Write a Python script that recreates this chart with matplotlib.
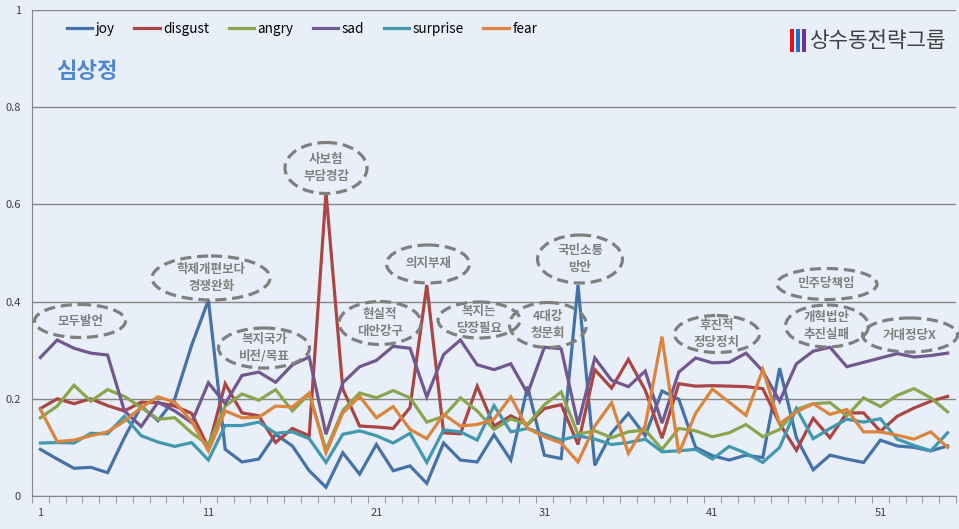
import numpy as np
from matplotlib import pyplot as plt
from matplotlib.patches import Ellipse, Rectangle

plt.rcParams['font.family'] = ['Noto Sans CJK KR', 'DejaVu Sans']

# 감정 점수 (1~55 발언 구간)
joy = [0.096, 0.076, 0.057, 0.059, 0.048, 0.12, 0.185, 0.155, 0.20, 0.31,
       0.403, 0.096, 0.07, 0.076, 0.127, 0.103, 0.052, 0.018, 0.089, 0.045,
       0.106, 0.052, 0.062, 0.026, 0.109, 0.074, 0.07, 0.126, 0.074, 0.225,
       0.084, 0.077, 0.434, 0.063, 0.13, 0.17, 0.124, 0.216, 0.199, 0.10,
       0.083, 0.074, 0.084, 0.079, 0.263, 0.12, 0.054, 0.084, 0.076, 0.069,
       0.115, 0.103, 0.10, 0.093, 0.103]
disgust = [0.18, 0.20, 0.19, 0.20, 0.186, 0.175, 0.193, 0.192, 0.185, 0.17,
           0.10, 0.231, 0.171, 0.165, 0.11, 0.139, 0.124, 0.625, 0.22, 0.144,
           0.142, 0.139, 0.182, 0.434, 0.13, 0.128, 0.226, 0.144, 0.165, 0.147,
           0.18, 0.188, 0.106, 0.26, 0.222, 0.281, 0.218, 0.119, 0.231, 0.226,
           0.227, 0.226, 0.225, 0.221, 0.149, 0.094, 0.16, 0.12, 0.171, 0.171,
           0.133, 0.164, 0.181, 0.195, 0.205]
angry = [0.161, 0.185, 0.228, 0.195, 0.219, 0.205, 0.182, 0.158, 0.161, 0.13,
         0.105, 0.185, 0.21, 0.197, 0.219, 0.175, 0.21, 0.095, 0.176, 0.212,
         0.202, 0.217, 0.202, 0.152, 0.164, 0.202, 0.175, 0.137, 0.159, 0.147,
         0.188, 0.214, 0.127, 0.134, 0.12, 0.132, 0.136, 0.096, 0.139, 0.134,
         0.122, 0.13, 0.147, 0.122, 0.137, 0.178, 0.19, 0.192, 0.165, 0.202,
         0.184, 0.207, 0.221, 0.202, 0.173]
sad = [0.285, 0.321, 0.304, 0.294, 0.29, 0.175, 0.143, 0.193, 0.175, 0.151,
       0.233, 0.19, 0.248, 0.255, 0.234, 0.27, 0.286, 0.127, 0.233, 0.266,
       0.279, 0.308, 0.304, 0.204, 0.291, 0.321, 0.27, 0.26, 0.272, 0.211,
       0.306, 0.303, 0.147, 0.284, 0.238, 0.225, 0.257, 0.15, 0.255, 0.284,
       0.274, 0.275, 0.294, 0.257, 0.195, 0.272, 0.298, 0.306, 0.266, 0.275,
       0.284, 0.293, 0.286, 0.289, 0.294]
surprise = [0.109, 0.11, 0.109, 0.129, 0.128, 0.164, 0.124, 0.111, 0.102, 0.11,
            0.074, 0.145, 0.145, 0.152, 0.129, 0.132, 0.118, 0.069, 0.127, 0.134,
            0.124, 0.109, 0.129, 0.069, 0.136, 0.132, 0.115, 0.186, 0.132, 0.139,
            0.127, 0.115, 0.124, 0.117, 0.106, 0.11, 0.117, 0.091, 0.093, 0.096,
            0.076, 0.102, 0.088, 0.069, 0.10, 0.18, 0.118, 0.139, 0.158, 0.152,
            0.159, 0.117, 0.104, 0.093, 0.13]
fear = [0.178, 0.112, 0.115, 0.124, 0.132, 0.154, 0.182, 0.204, 0.193, 0.154,
        0.093, 0.175, 0.161, 0.162, 0.185, 0.183, 0.212, 0.089, 0.171, 0.205,
        0.161, 0.184, 0.137, 0.118, 0.168, 0.144, 0.147, 0.158, 0.204, 0.139,
        0.122, 0.109, 0.07, 0.144, 0.192, 0.088, 0.145, 0.328, 0.088, 0.17,
        0.22, 0.193, 0.166, 0.26, 0.149, 0.173, 0.19, 0.168, 0.178, 0.132,
        0.132, 0.125, 0.117, 0.132, 0.10]

series = [('joy', joy, '#4572A7'), ('disgust', disgust, '#AA4643'),
          ('angry', angry, '#89A54E'), ('sad', sad, '#71588F'),
          ('surprise', surprise, '#4198AF'), ('fear', fear, '#DB843D')]

# 말풍선 (텍스트, 중심 x, 중심 y, 폭, 높이) - 픽셀 기준
notes = [('모두발언', 80, 321, 91, 33),
         ('학제개편보다\n경쟁완화', 211, 278, 118, 44),
         ('복지국가\n비전/목표', 264, 348, 91, 40),
         ('사보험\n부담경감', 326, 168, 82, 51),
         ('현실적\n대안강구', 380, 323, 82, 43),
         ('의지부재', 428, 264, 83, 38),
         ('복지는\n당장필요', 479, 320, 82, 36),
         ('4대강\n청문회', 548, 325, 77, 45),
         ('국민소통\n방안', 580, 259, 85, 48),
         ('후진적\n정당정치', 717, 334, 85, 37),
         ('민주당책임', 827, 284, 100, 31),
         ('개혁법안\n추진실패', 827, 326, 83, 42),
         ('거대정당X', 910, 335, 95, 34)]

bg = '#E9EFF8'
W, H = 959, 529
fig = plt.figure(figsize=(W / 100, H / 100), dpi=100, facecolor=bg)
ax = fig.add_axes([32 / W, (H - 496) / H, (956 - 32) / W, (496 - 10) / H])
ax.set_facecolor(bg)

x = np.arange(1, len(joy) + 1)
for name, vals, col in series:
    ax.plot(x, vals, color=col, lw=2.3, label=name, solid_joinstyle='miter')

ax.set_xlim(0.5, len(joy) + 0.5)
ax.set_ylim(0, 1)
ax.set_yticks([0, 0.2, 0.4, 0.6, 0.8, 1])
ax.set_yticklabels(['0', '0.2', '0.4', '0.6', '0.8', '1'])
ax.set_xticks(np.arange(1, len(joy) + 1, 10))
ax.set_xticks(np.arange(0.5, len(joy) + 1, 1), minor=True)
ax.tick_params(axis='y', length=0, pad=8, labelsize=8, labelcolor='#404040')
ax.tick_params(axis='x', which='major', length=0, pad=9, labelsize=8, labelcolor='#404040')
ax.tick_params(axis='x', which='minor', length=5, color='#868686', direction='out')
ax.grid(axis='y', color='#868686', lw=1)
ax.set_axisbelow(True)
for s in ['top', 'right']:
    ax.spines[s].set_visible(False)
for s in ['left', 'bottom']:
    ax.spines[s].set_color('#868686')

ax.legend(loc='upper left', bbox_to_anchor=(67 / W, 1 - 22 / H), bbox_transform=fig.transFigure,
          ncol=6, frameon=False, fontsize=9.8, handlelength=1.85, handletextpad=0.25,
          columnspacing=1.45, borderaxespad=0, borderpad=0)

# 겹쳐 그리는 픽셀 좌표 축
ov = fig.add_axes([0, 0, 1, 1])
ov.set_xlim(0, W)
ov.set_ylim(H, 0)
ov.axis('off')

ov.text(56, 71, '심상정', fontsize=16, fontweight='bold', color='#4F87CF', va='center', ha='left')

for i, c in enumerate(['#E8101A', '#1F6FC5', '#7030A0']):
    ov.add_patch(Rectangle((790 + i * 6, 29), 4, 23, color=c, lw=0))
ov.text(809, 41, '상수동전략그룹', fontsize=15.3, color='#404040', va='center', ha='left')

for txt, cx, cy, w, h in notes:
    ov.add_patch(Ellipse((cx, cy), w, h, fill=False, edgecolor='#7F7F7F',
                         lw=2.3, linestyle=(0, (3.5, 1.8))))
    ov.text(cx, cy, txt, fontsize=9, fontweight='bold', color='#7F7F7F',
            ha='center', va='center', linespacing=1.45)

fig.savefig('out.png', dpi=100, facecolor=bg)
